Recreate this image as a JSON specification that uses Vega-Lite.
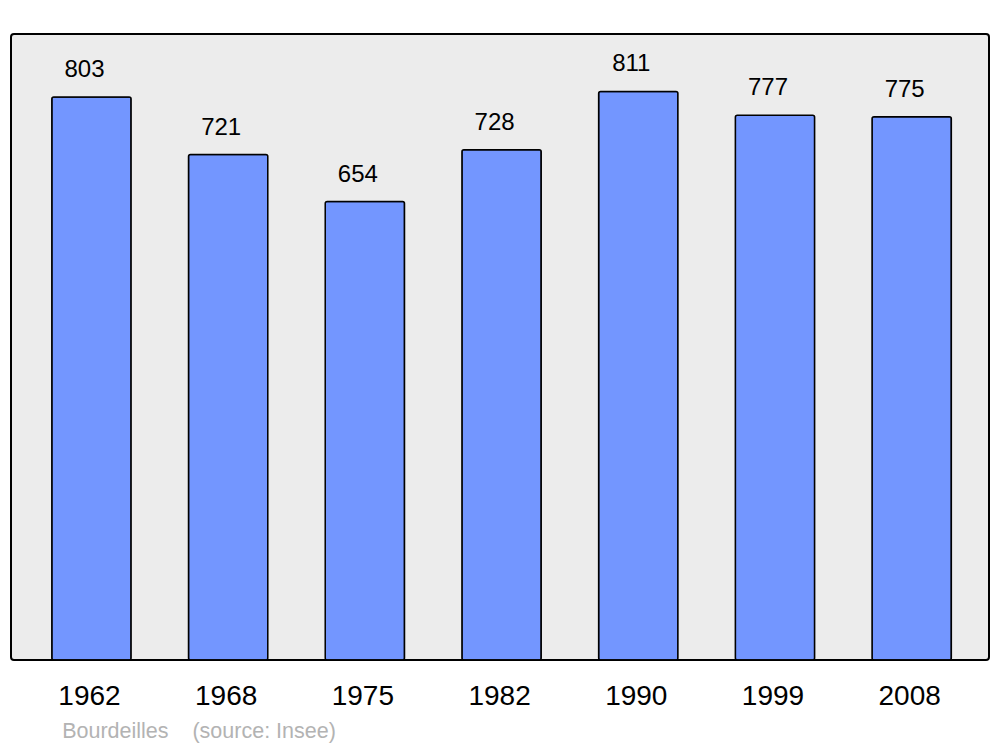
{
  "$schema": "https://vega.github.io/schema/vega-lite/v6.json",
  "width": 978,
  "height": 626,
  "autosize": {"type": "none"},
  "padding": {"left": 11, "top": 34, "right": 11, "bottom": 87},
  "background": "white",
  "config": {
    "font": "Liberation Sans",
    "view": {"fill": "#ececec", "stroke": "black", "strokeWidth": 2, "cornerRadius": 3}
  },
  "data": {
    "values": [
      {"year": "1962", "population": 803},
      {"year": "1968", "population": 721},
      {"year": "1975", "population": 654},
      {"year": "1982", "population": 728},
      {"year": "1990", "population": 811},
      {"year": "1999", "population": 777},
      {"year": "2008", "population": 775}
    ]
  },
  "encoding": {
    "x": {
      "field": "year",
      "type": "nominal",
      "sort": null,
      "scale": {"paddingInner": 0.42, "paddingOuter": 0.287, "align": 0.52},
      "axis": {
        "title": "Bourdeilles\u00a0\u00a0\u00a0\u00a0(source: Insee)",
        "titleFont": "Liberation Sans",
        "titleFontSize": 21.5,
        "titleFontWeight": "normal",
        "titleColor": "#b3b3b3",
        "titleAnchor": "start",
        "titleAlign": "left",
        "titleBaseline": "alphabetic",
        "titleX": 50.7,
        "titleY": 77.3,
        "labelAngle": 0,
        "labelFontSize": 28,
        "labelColor": "black",
        "labelBaseline": "alphabetic",
        "labelPadding": 44.5,
        "labelOffset": -2,
        "ticks": false,
        "tickSize": 0,
        "domain": false,
        "grid": false
      }
    },
    "y": {
      "field": "population",
      "type": "quantitative",
      "scale": {"domain": [0, 893], "nice": false},
      "axis": null
    }
  },
  "layer": [
    {
      "mark": {"type": "bar", "fill": "#7396ff", "stroke": "black", "strokeWidth": 1.5, "cornerRadius": 2}
    },
    {
      "mark": {"type": "text", "fontSize": 24, "color": "black", "baseline": "alphabetic", "dy": -20, "dx": -7},
      "encoding": {"text": {"field": "population", "type": "quantitative"}}
    }
  ]
}
